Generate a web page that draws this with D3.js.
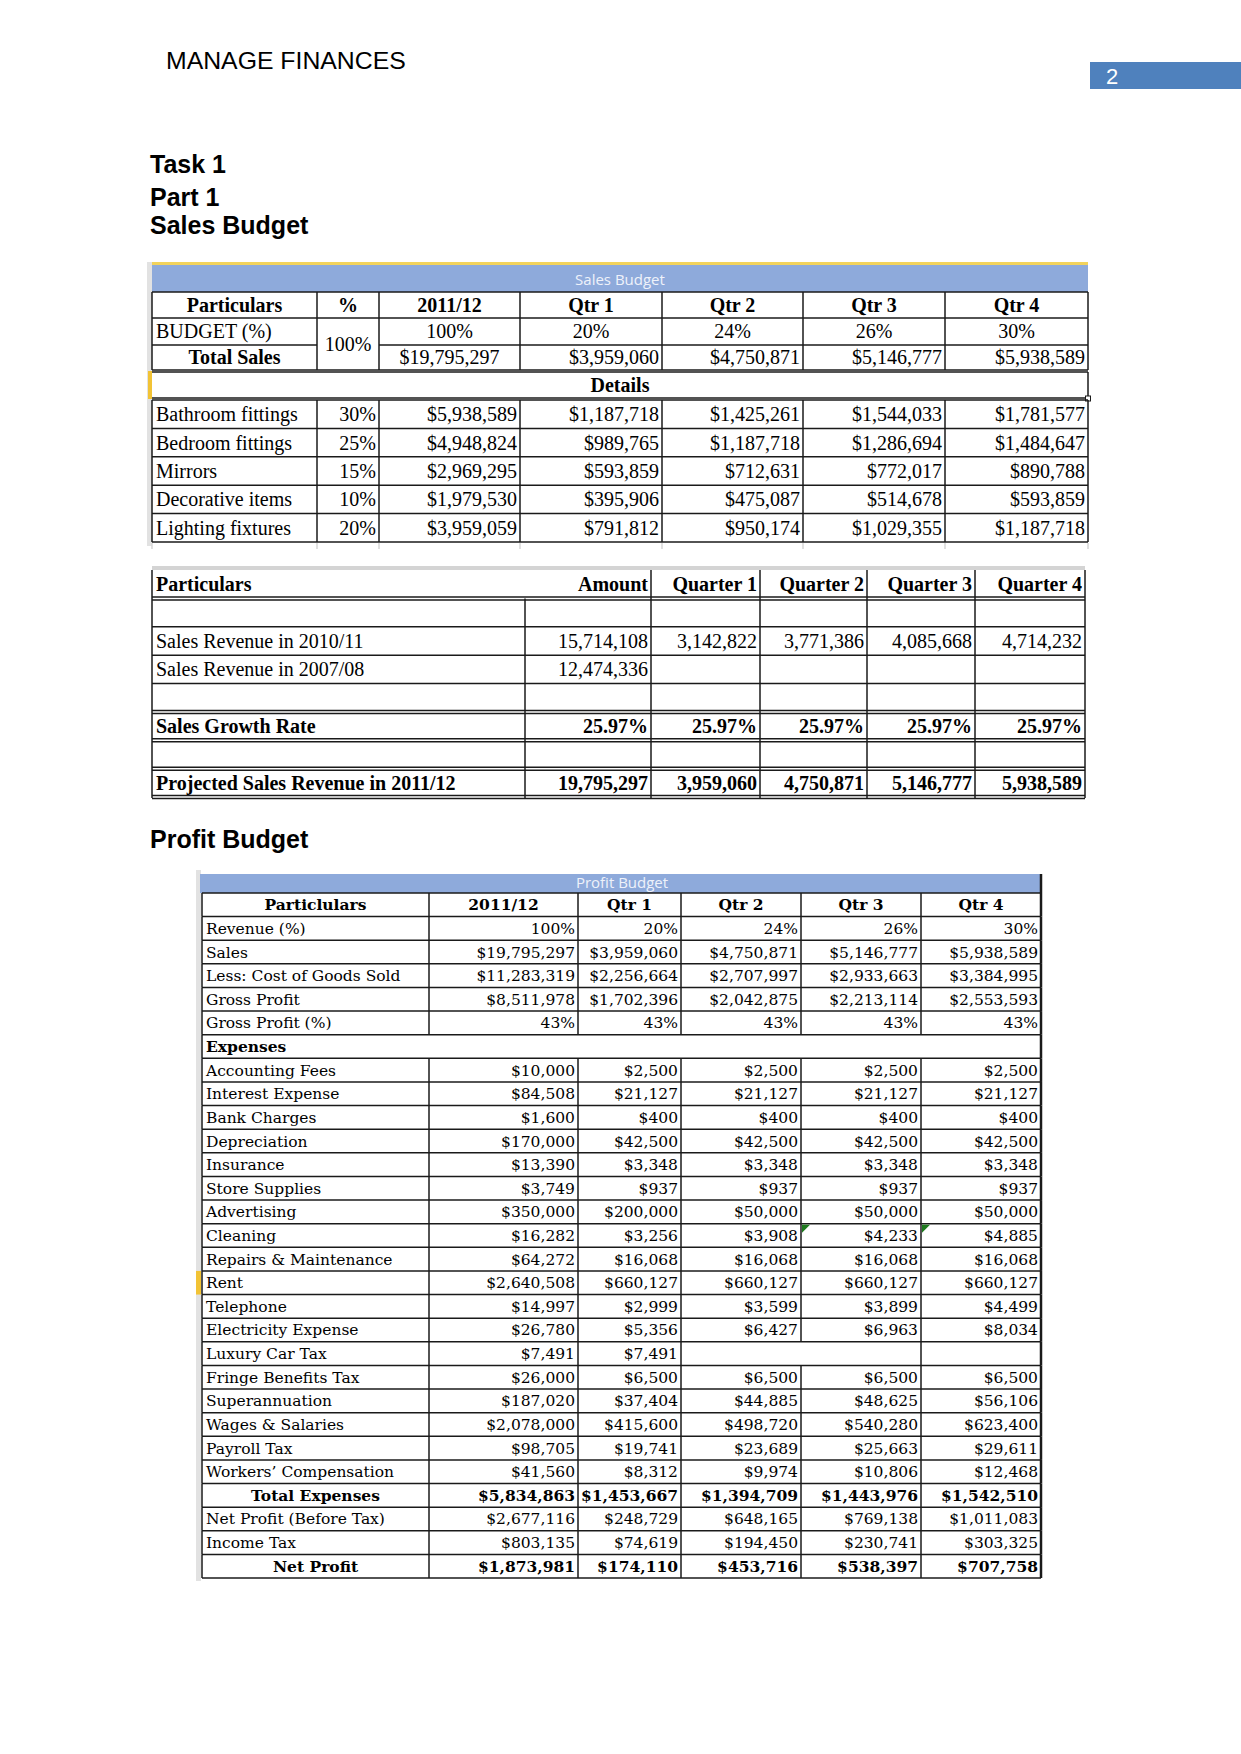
<!DOCTYPE html>
<html>
<head>
<meta charset="utf-8">
<script src="https://cdn.jsdelivr.net/npm/d3@7"></script>
<style>
body { margin: 0; background: #fff; }
</style>
</head>
<body>
<div id="page"></div>
<script>
// ---- data ----
const headerText = "MANAGE FINANCES";
const pageNumber = "2";
const headings = ["Task 1", "Part 1", "Sales Budget"];

const salesColumns = ["Particulars", "%", "2011/12", "Qtr 1", "Qtr 2", "Qtr 3", "Qtr 4"];
const budgetShare = [1, 0.20, 0.24, 0.26, 0.30];
const totalSales = [19795297, 3959060, 4750871, 5146777, 5938589];
const products = ["Bathroom fittings", "Bedroom fittings", "Mirrors", "Decorative items", "Lighting fixtures"];
const productShare = [0.30, 0.25, 0.15, 0.10, 0.20];
const productSales = [
  [5938589, 1187718, 1425261, 1544033, 1781577],
  [4948824, 989765, 1187718, 1286694, 1484647],
  [2969295, 593859, 712631, 772017, 890788],
  [1979530, 395906, 475087, 514678, 593859],
  [3959059, 791812, 950174, 1029355, 1187718]
];

const growthColumns = ["Particulars", "Amount", "Quarter 1", "Quarter 2", "Quarter 3", "Quarter 4"];
const growthLabels = ["", "Sales Revenue in 2010/11", "Sales Revenue in 2007/08", "", "Sales Growth Rate", "", "Projected Sales Revenue in 2011/12"];
const revenue1011 = [15714108, 3142822, 3771386, 4085668, 4714232];
const revenue0708 = [12474336];
const growthRate = [0.2597, 0.2597, 0.2597, 0.2597, 0.2597];
const projectedRevenue = [19795297, 3959060, 4750871, 5146777, 5938589];

const profitColumns = ["Particlulars", "2011/12", "Qtr 1", "Qtr 2", "Qtr 3", "Qtr 4"];
const profitLabels = [
  "Revenue (%)", "Sales", "Less: Cost of Goods Sold", "Gross Profit", "Gross Profit (%)",
  "Expenses", "Accounting Fees", "Interest Expense", "Bank Charges", "Depreciation",
  "Insurance", "Store Supplies", "Advertising", "Cleaning", "Repairs & Maintenance",
  "Rent", "Telephone", "Electricity Expense", "Luxury Car Tax", "Fringe Benefits Tax",
  "Superannuation", "Wages & Salaries", "Payroll Tax", "Workers\u2019 Compensation",
  "Total Expenses", "Net Profit (Before Tax)", "Income Tax", "Net Profit"
];
const profitValues = [
  [1, 0.20, 0.24, 0.26, 0.30],
  [19795297, 3959060, 4750871, 5146777, 5938589],
  [11283319, 2256664, 2707997, 2933663, 3384995],
  [8511978, 1702396, 2042875, 2213114, 2553593],
  [0.43, 0.43, 0.43, 0.43, 0.43],
  [],
  [10000, 2500, 2500, 2500, 2500],
  [84508, 21127, 21127, 21127, 21127],
  [1600, 400, 400, 400, 400],
  [170000, 42500, 42500, 42500, 42500],
  [13390, 3348, 3348, 3348, 3348],
  [3749, 937, 937, 937, 937],
  [350000, 200000, 50000, 50000, 50000],
  [16282, 3256, 3908, 4233, 4885],
  [64272, 16068, 16068, 16068, 16068],
  [2640508, 660127, 660127, 660127, 660127],
  [14997, 2999, 3599, 3899, 4499],
  [26780, 5356, 6427, 6963, 8034],
  [7491, 7491, null, null, null],
  [26000, 6500, 6500, 6500, 6500],
  [187020, 37404, 44885, 48625, 56106],
  [2078000, 415600, 498720, 540280, 623400],
  [98705, 19741, 23689, 25663, 29611],
  [41560, 8312, 9974, 10806, 12468],
  [5834863, 1453667, 1394709, 1443976, 1542510],
  [2677116, 248729, 648165, 769138, 1011083],
  [803135, 74619, 194450, 230741, 303325],
  [1873981, 174110, 453716, 538397, 707758]
];
const percentRows = ["Revenue (%)", "Gross Profit (%)"];
const totalRows = ["Total Expenses", "Net Profit"];

// ---- page ----
const svg = d3.select("#page").append("svg")
  .attr("width", 1241)
  .attr("height", 1754);
svg.append("rect").attr("width", 1241).attr("height", 1754).attr("fill", "#fff");

const money = d3.format("$,.0f");
const pct = d3.format(".0%");
const pct2 = d3.format(".2%");
const num = d3.format(",");

const ink = "#1a1a1a";

function line(g, x1, y1, x2, y2, color, w) {
  g.append("line")
    .attr("x1", x1).attr("y1", y1)
    .attr("x2", x2).attr("y2", y2)
    .attr("stroke", color || ink)
    .attr("stroke-width", w || 1.5);
}

// put text inside a cell [x0,x1], aligned left / middle / right
function cell(g, str, x0, x1, y, align, font) {
  const x = align === "left" ? x0 + 4 : align === "right" ? x1 - 3 : (x0 + x1) / 2;
  g.append("text")
    .attr("x", x)
    .attr("y", y)
    .attr("text-anchor", align === "left" ? "start" : align === "right" ? "end" : "middle")
    .style("font-family", font.family)
    .style("font-size", font.size + "px")
    .style("font-weight", font.bold ? "bold" : "normal")
    .style("fill", "#000")
    .text(str);
}

// header
svg.append("text")
  .attr("x", 166).attr("y", 69)
  .style("font-family", "'Liberation Sans', Arial, sans-serif")
  .style("font-size", "24.8px")
  .text(headerText);

svg.append("rect")
  .attr("x", 1090).attr("y", 62)
  .attr("width", 151).attr("height", 27)
  .attr("fill", "#4f81bd");
svg.append("text")
  .attr("x", 1106).attr("y", 84)
  .style("font-family", "'Liberation Sans', Arial, sans-serif")
  .style("font-size", "22px")
  .style("fill", "#fff")
  .text(pageNumber);

const headY = [173, 206, 234];
headings.forEach(function(h, i) {
  svg.append("text")
    .attr("x", 150).attr("y", headY[i])
    .style("font-family", "'Liberation Sans', Arial, sans-serif")
    .style("font-size", "25px")
    .style("font-weight", "bold")
    .text(h);
});

svg.append("text")
  .attr("x", 150).attr("y", 848)
  .style("font-family", "'Liberation Sans', Arial, sans-serif")
  .style("font-size", "25px")
  .style("font-weight", "bold")
  .text("Profit Budget");

// ---- table 1: sales budget ----
const t1 = svg.append("g");
const t1Edges = [152, 317, 379, 520, 662, 803, 945, 1088];
const t1Font = {family: "'Liberation Serif', 'Times New Roman', serif", size: 20};
const t1Bold = {family: t1Font.family, size: 20, bold: true};
const t1Top = d3.scaleBand().domain(["head", "budget", "total"]).range([292, 370]);
const t1Rows = d3.scaleBand().domain(products).range([400, 542]);
const t1L = t1Edges[0], t1R = t1Edges[t1Edges.length - 1];

t1.append("rect").attr("x", 147).attr("y", 262).attr("width", 5).attr("height", 284).attr("fill", "#e2e2e2");
t1.append("rect").attr("x", t1L).attr("y", 262).attr("width", t1R - t1L).attr("height", 3).attr("fill", "#f2d35c");
t1.append("rect").attr("x", t1L).attr("y", 265).attr("width", t1R - t1L).attr("height", 27).attr("fill", "#8eaadb");
t1.append("text")
  .attr("x", 620).attr("y", 285)
  .attr("text-anchor", "middle")
  .style("font-family", "'Open Sans', 'Liberation Sans', sans-serif")
  .style("font-size", "15px")
  .style("fill", "#eef2fa")
  .text("Sales Budget");

// grid of the top rows
[292, 318, 370].forEach(y => line(t1, t1L, y, t1R, y));
line(t1, t1L, 345, t1Edges[1], 345);
line(t1, t1Edges[2], 345, t1R, 345);
t1Edges.forEach(x => line(t1, x, 292, x, 370));

// details band
line(t1, t1L, 372, t1R, 372);
line(t1, t1L, 398, t1R, 398);
line(t1, t1R, 372, t1R, 398);
t1.append("rect").attr("x", 148).attr("y", 371).attr("width", 4).attr("height", 28).attr("fill", "#f2c335");
t1.append("rect").attr("x", t1R - 2.5).attr("y", 396).attr("width", 5).attr("height", 5)
  .attr("fill", "#fff").attr("stroke", ink).attr("stroke-width", 1);

// grid of the product rows
products.forEach(p => line(t1, t1L, t1Rows(p), t1R, t1Rows(p)));
line(t1, t1L, 542, t1R, 542);
t1Edges.forEach(x => line(t1, x, 400, x, 542));
t1Edges.forEach(x => line(t1, x, 543, x, 549, "#d6d6d6", 1.5));

// texts
const mid1 = d => t1Top(d) + t1Top.bandwidth() / 2 + 7;
salesColumns.forEach((c, i) => cell(t1, c, t1Edges[i], t1Edges[i + 1], mid1("head"), "middle", t1Bold));
cell(t1, "BUDGET (%)", t1Edges[0], t1Edges[1], mid1("budget"), "left", t1Font);
cell(t1, pct(budgetShare[0]), t1Edges[1], t1Edges[2], 351, "middle", t1Font);
budgetShare.forEach((v, i) => cell(t1, pct(v), t1Edges[i + 2], t1Edges[i + 3], mid1("budget"), "middle", t1Font));
cell(t1, "Total Sales", t1Edges[0], t1Edges[1], mid1("total"), "middle", t1Bold);
totalSales.forEach((v, i) => cell(t1, money(v), t1Edges[i + 2], t1Edges[i + 3], mid1("total"), i === 0 ? "middle" : "right", t1Font));
cell(t1, "Details", t1L, t1R, 392, "middle", t1Bold);

products.forEach(function(p, r) {
  const y = t1Rows(p) + t1Rows.bandwidth() / 2 + 7;
  cell(t1, p, t1Edges[0], t1Edges[1], y, "left", t1Font);
  cell(t1, pct(productShare[r]), t1Edges[1], t1Edges[2], y, "right", t1Font);
  productSales[r].forEach((v, i) => cell(t1, money(v), t1Edges[i + 2], t1Edges[i + 3], y, "right", t1Font));
});

// ---- table 2: sales growth ----
const t2 = svg.append("g");
const t2Edges = [152, 525, 651, 760, 867, 975, 1085];
const t2Rows = d3.scaleBand().domain(d3.range(8)).range([570, 797]);
const t2L = t2Edges[0], t2R = t2Edges[t2Edges.length - 1];
const t2Values = [[], revenue1011, revenue0708, [], growthRate, [], projectedRevenue];
const t2Double = [0, 4, 5, 6, 7];

t2.append("rect").attr("x", t2L).attr("y", 566).attr("width", t2R - t2L).attr("height", 4).attr("fill", "#d4d4d4");
d3.range(8).forEach(function(r) {
  const yb = t2Rows(r) + t2Rows.bandwidth();
  if (t2Double.includes(r)) {
    line(t2, t2L, yb - 1.5, t2R, yb - 1.5);
    line(t2, t2L, yb + 1.5, t2R, yb + 1.5);
  } else {
    line(t2, t2L, yb, t2R, yb);
  }
});
t2Edges.forEach(function(x, i) {
  line(t2, x, i === 1 ? t2Rows(1) : 570, x, 798);
});

const mid2 = r => t2Rows(r) + t2Rows.bandwidth() / 2 + 7;
growthColumns.forEach((c, i) => cell(t2, c, t2Edges[i], t2Edges[i + 1], mid2(0), i === 0 ? "left" : "right", t1Bold));
growthLabels.forEach(function(lab, k) {
  const r = k + 1;
  const bold = lab === "Sales Growth Rate" || lab.startsWith("Projected");
  const f = bold ? t1Bold : t1Font;
  cell(t2, lab, t2Edges[0], t2Edges[1], mid2(r), "left", f);
  t2Values[k].forEach(function(v, i) {
    const s = lab === "Sales Growth Rate" ? pct2(v) : num(v);
    cell(t2, s, t2Edges[i + 1], t2Edges[i + 2], mid2(r), "right", f);
  });
});

// ---- table 3: profit budget ----
const t3 = svg.append("g");
const t3Edges = [202, 429, 578, 681, 801, 921, 1041];
const t3Rows = d3.scaleBand().domain(["head"].concat(profitLabels)).range([893, 1578]);
const t3L = t3Edges[0], t3R = t3Edges[t3Edges.length - 1];
const t3Font = {family: "'DejaVu Serif', serif", size: 15.5};
const t3Bold = {family: t3Font.family, size: 15.5, bold: true};

t3.append("rect").attr("x", 196).attr("y", 870).attr("width", 5).attr("height", 711).attr("fill", "#e2e2e2");
t3.append("rect").attr("x", 200).attr("y", 874).attr("width", t3R - 200).attr("height", 19).attr("fill", "#8eaadb");
t3.append("text")
  .attr("x", 622).attr("y", 888)
  .attr("text-anchor", "middle")
  .style("font-family", "'Open Sans', 'Liberation Sans', sans-serif")
  .style("font-size", "15px")
  .style("fill", "#eef2fa")
  .text("Profit Budget");

// rent row marker
t3.append("rect").attr("x", 196).attr("y", t3Rows("Rent")).attr("width", 5).attr("height", t3Rows.bandwidth()).attr("fill", "#f2c335");

t3Rows.domain().forEach(function(k) {
  const y0 = t3Rows(k), y1 = y0 + t3Rows.bandwidth();
  line(t3, t3L, y0, t3R, y0);
  t3Edges.forEach(function(x, i) {
    const inner = i > 0 && i < t3Edges.length - 1;
    if (k === "Expenses" && inner) return;
    if (k === "Luxury Car Tax" && i === 4) return;
    line(t3, x, y0, x, y1, ink, i === t3Edges.length - 1 ? 2.5 : 1.5);
  });
});
line(t3, t3L, 1578, t3R, 1578);
line(t3, t3R, 874, t3R, 893, ink, 2.5);

// comment markers on the cleaning row
[4, 5].forEach(function(i) {
  const x = t3Edges[i] + 1, y = t3Rows("Cleaning") + 1;
  t3.append("path")
    .attr("d", `M${x},${y}L${x + 8},${y}L${x},${y + 8}Z`)
    .attr("fill", "#1e7b1e");
});

const mid3 = k => t3Rows(k) + t3Rows.bandwidth() / 2 + 5.5;
profitColumns.forEach((c, i) => cell(t3, c, t3Edges[i], t3Edges[i + 1], mid3("head"), "middle", t3Bold));
profitLabels.forEach(function(lab, r) {
  const isTotal = totalRows.includes(lab);
  const f = isTotal ? t3Bold : t3Font;
  cell(t3, lab, t3Edges[0], t3Edges[1], mid3(lab), isTotal ? "middle" : "left", lab === "Expenses" || isTotal ? t3Bold : t3Font);
  profitValues[r].forEach(function(v, i) {
    if (v === null) return;
    const s = percentRows.includes(lab) ? pct(v) : money(v);
    cell(t3, s, t3Edges[i + 1], t3Edges[i + 2], mid3(lab), "right", f);
  });
});
</script>
</body>
</html>
